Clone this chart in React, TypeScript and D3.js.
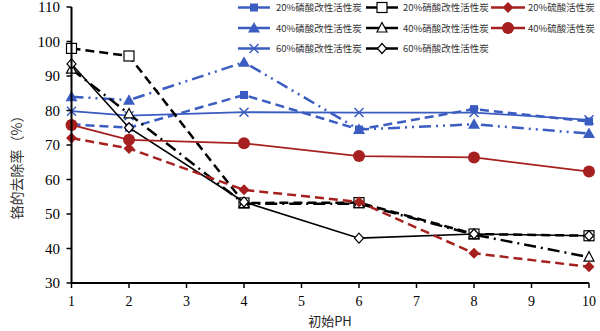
import React from "react";
import * as d3 from "d3";

const phValues = [1, 2, 4, 6, 8, 10];
const p20 = [76, 75, 84.5, 74.5, 80.4, 76.8];
const p40 = [84, 83, 94, 74.5, 76, 73.3];
const p60 = [79.8, 78.5, 79.5, 79.4, 79.4, 77.3];
const n20 = [98, 95.8, 53.2, 53.3, 44.2, 43.7];
const n40 = [92, 79, 53, 53, 44, 37.5];
const n60 = [93.5, 75, 53.5, 43, 44.2, 43.7];
const s20 = [72, 69, 57, 53.5, 38.6, 34.7];
const s40 = [75.8, 71.5, 70.5, 66.8, 66.4, 62.3];
const xTicks = [1, 2, 3, 4, 5, 6, 7, 8, 9, 10];
const yTicks = [30, 40, 50, 60, 70, 80, 90, 100, 110];

const BLUE = "#3b5cc0";
const RED = "#a5201e";
const BLACK = "#000";

type Marker = "square" | "openSquare" | "diamond" | "openDiamond" | "triangle" | "openTriangle" | "circle" | "x";

const series: { name: string; values: number[]; color: string; dash: string; width: number; marker: Marker }[] = [
  { name: "20%磷酸改性活性炭", values: p20, color: BLUE, dash: "9,5", width: 2.5, marker: "square" },
  { name: "40%磷酸改性活性炭", values: p40, color: BLUE, dash: "12,5,2,5,2,5", width: 2.5, marker: "triangle" },
  { name: "60%磷酸改性活性炭", values: p60, color: BLUE, dash: "", width: 1.8, marker: "x" },
  { name: "20%硝酸改性活性炭", values: n20, color: BLACK, dash: "9,5", width: 2.5, marker: "openSquare" },
  { name: "40%硝酸改性活性炭", values: n40, color: BLACK, dash: "12,5,2,5", width: 2.5, marker: "openTriangle" },
  { name: "60%硝酸改性活性炭", values: n60, color: BLACK, dash: "", width: 1.6, marker: "openDiamond" },
  { name: "20%硫酸活性炭", values: s20, color: RED, dash: "9,5", width: 2.5, marker: "diamond" },
  { name: "40%硫酸活性炭", values: s40, color: RED, dash: "", width: 1.8, marker: "circle" },
];

function MarkerShape({ type, x, y, color }: { type: Marker; x: number; y: number; color: string }) {
  switch (type) {
    case "square":
      return <rect x={x - 4} y={y - 4} width={8} height={8} fill={color} />;
    case "openSquare":
      return <rect x={x - 5} y={y - 5} width={10} height={10} fill="#fff" stroke={color} strokeWidth={1.2} />;
    case "diamond":
      return <path d={`M${x},${y - 5.5}L${x + 5.5},${y}L${x},${y + 5.5}L${x - 5.5},${y}Z`} fill={color} />;
    case "openDiamond":
      return <path d={`M${x},${y - 5}L${x + 4.5},${y}L${x},${y + 5}L${x - 4.5},${y}Z`} fill="#fff" stroke={color} strokeWidth={1.2} />;
    case "triangle":
      return <path d={`M${x},${y - 6}L${x + 6},${y + 4.5}L${x - 6},${y + 4.5}Z`} fill={color} />;
    case "openTriangle":
      return <path d={`M${x},${y - 5.5}L${x + 5},${y + 4}L${x - 5},${y + 4}Z`} fill="#fff" stroke={color} strokeWidth={1.2} />;
    case "circle":
      return <circle cx={x} cy={y} r={6} fill={color} />;
    case "x":
      return (
        <path d={`M${x - 4.5},${y - 4.5}L${x + 4.5},${y + 4.5}M${x - 4.5},${y + 4.5}L${x + 4.5},${y - 4.5}`} stroke={color} strokeWidth={1.5} />
      );
  }
}

export default function App() {
  const W = 600;
  const H = 331;
  const x = d3.scaleLinear().domain([1, 10]).range([71.5, 589]);
  const y = d3.scaleLinear().domain([30, 110]).range([283, 7]);
  const line = d3
    .line<number>()
    .x((_, i) => x(phValues[i]))
    .y((d) => y(d));

  const legendCols = [
    { lx1: 238, lx2: 270, tx: 276 },
    { lx1: 366, lx2: 398, tx: 403 },
    { lx1: 491, lx2: 525, tx: 528 },
  ];
  const legendRows = [7.5, 28, 48.5];
  // [series index, row, col]
  const legendOrder = [
    [0, 0, 0], [1, 1, 0], [2, 2, 0],
    [3, 0, 1], [4, 1, 1], [5, 2, 1],
    [6, 0, 2], [7, 1, 2],
  ];

  return (
    <svg width={W} height={H} style={{ position: "absolute", left: 0, top: 0, background: "#fff" }}>
      <rect width={W} height={H} fill="#fff" />
      {series.map((s) => (
        <g key={s.name}>
          <path d={line(s.values) || ""} fill="none" stroke={s.color} strokeWidth={s.width} strokeDasharray={s.dash} />
          {s.values.map((v, i) => (
            <MarkerShape key={i} type={s.marker} x={x(phValues[i])} y={y(v)} color={s.color} />
          ))}
        </g>
      ))}
      <line x1={x(1)} x2={x(10)} y1={y(30)} y2={y(30)} stroke="#000" strokeWidth={2} />
      <line x1={x(1)} x2={x(1)} y1={y(30)} y2={y(110)} stroke="#000" strokeWidth={2} />
      {xTicks.map((t) => (
        <g key={"x" + t}>
          <line x1={x(t)} x2={x(t)} y1={y(30)} y2={y(30) + 5} stroke="#000" strokeWidth={1.5} />
          <text x={x(t)} y={306} textAnchor="middle" fontFamily="Liberation Serif" fontSize={14}>
            {t}
          </text>
        </g>
      ))}
      {yTicks.map((t) => (
        <g key={"y" + t}>
          <line x1={x(1) - 5} x2={x(1)} y1={y(t)} y2={y(t)} stroke="#000" strokeWidth={1.5} />
          <text x={60} y={y(t) + 5} textAnchor="end" fontFamily="Liberation Serif" fontSize={15}>
            {t}
          </text>
        </g>
      ))}
      <text x={330} y={326} textAnchor="middle" fontFamily="'Noto Sans CJK SC', 'Liberation Serif'" fontSize={13} fill="#222">
        初始PH
      </text>
      <text
        transform={`translate(22,164) rotate(-90)`}
        textAnchor="middle"
        fontFamily="'Noto Sans CJK SC'"
        fontSize={14}
        fill="#333"
      >
        铬的去除率（%）
      </text>
      {legendOrder.map(([si, row, col]) => {
        const s = series[si];
        const c = legendCols[col];
        const ly = legendRows[row];
        return (
          <g key={"lg" + si}>
            <rect x={c.lx1 - 2} y={ly - 8} width={c.tx - c.lx1 + 78} height={16} fill="#fff" />
            <line x1={c.lx1} x2={c.lx2} y1={ly} y2={ly} stroke={s.color} strokeWidth={2.5} />
            <MarkerShape type={s.marker} x={(c.lx1 + c.lx2) / 2} y={ly} color={s.color} />
            <text x={c.tx} y={ly + 3.5} fontFamily="'Noto Sans CJK SC'" fontSize={9.5} fill="#333">
              {s.name}
            </text>
          </g>
        );
      })}
    </svg>
  );
}
